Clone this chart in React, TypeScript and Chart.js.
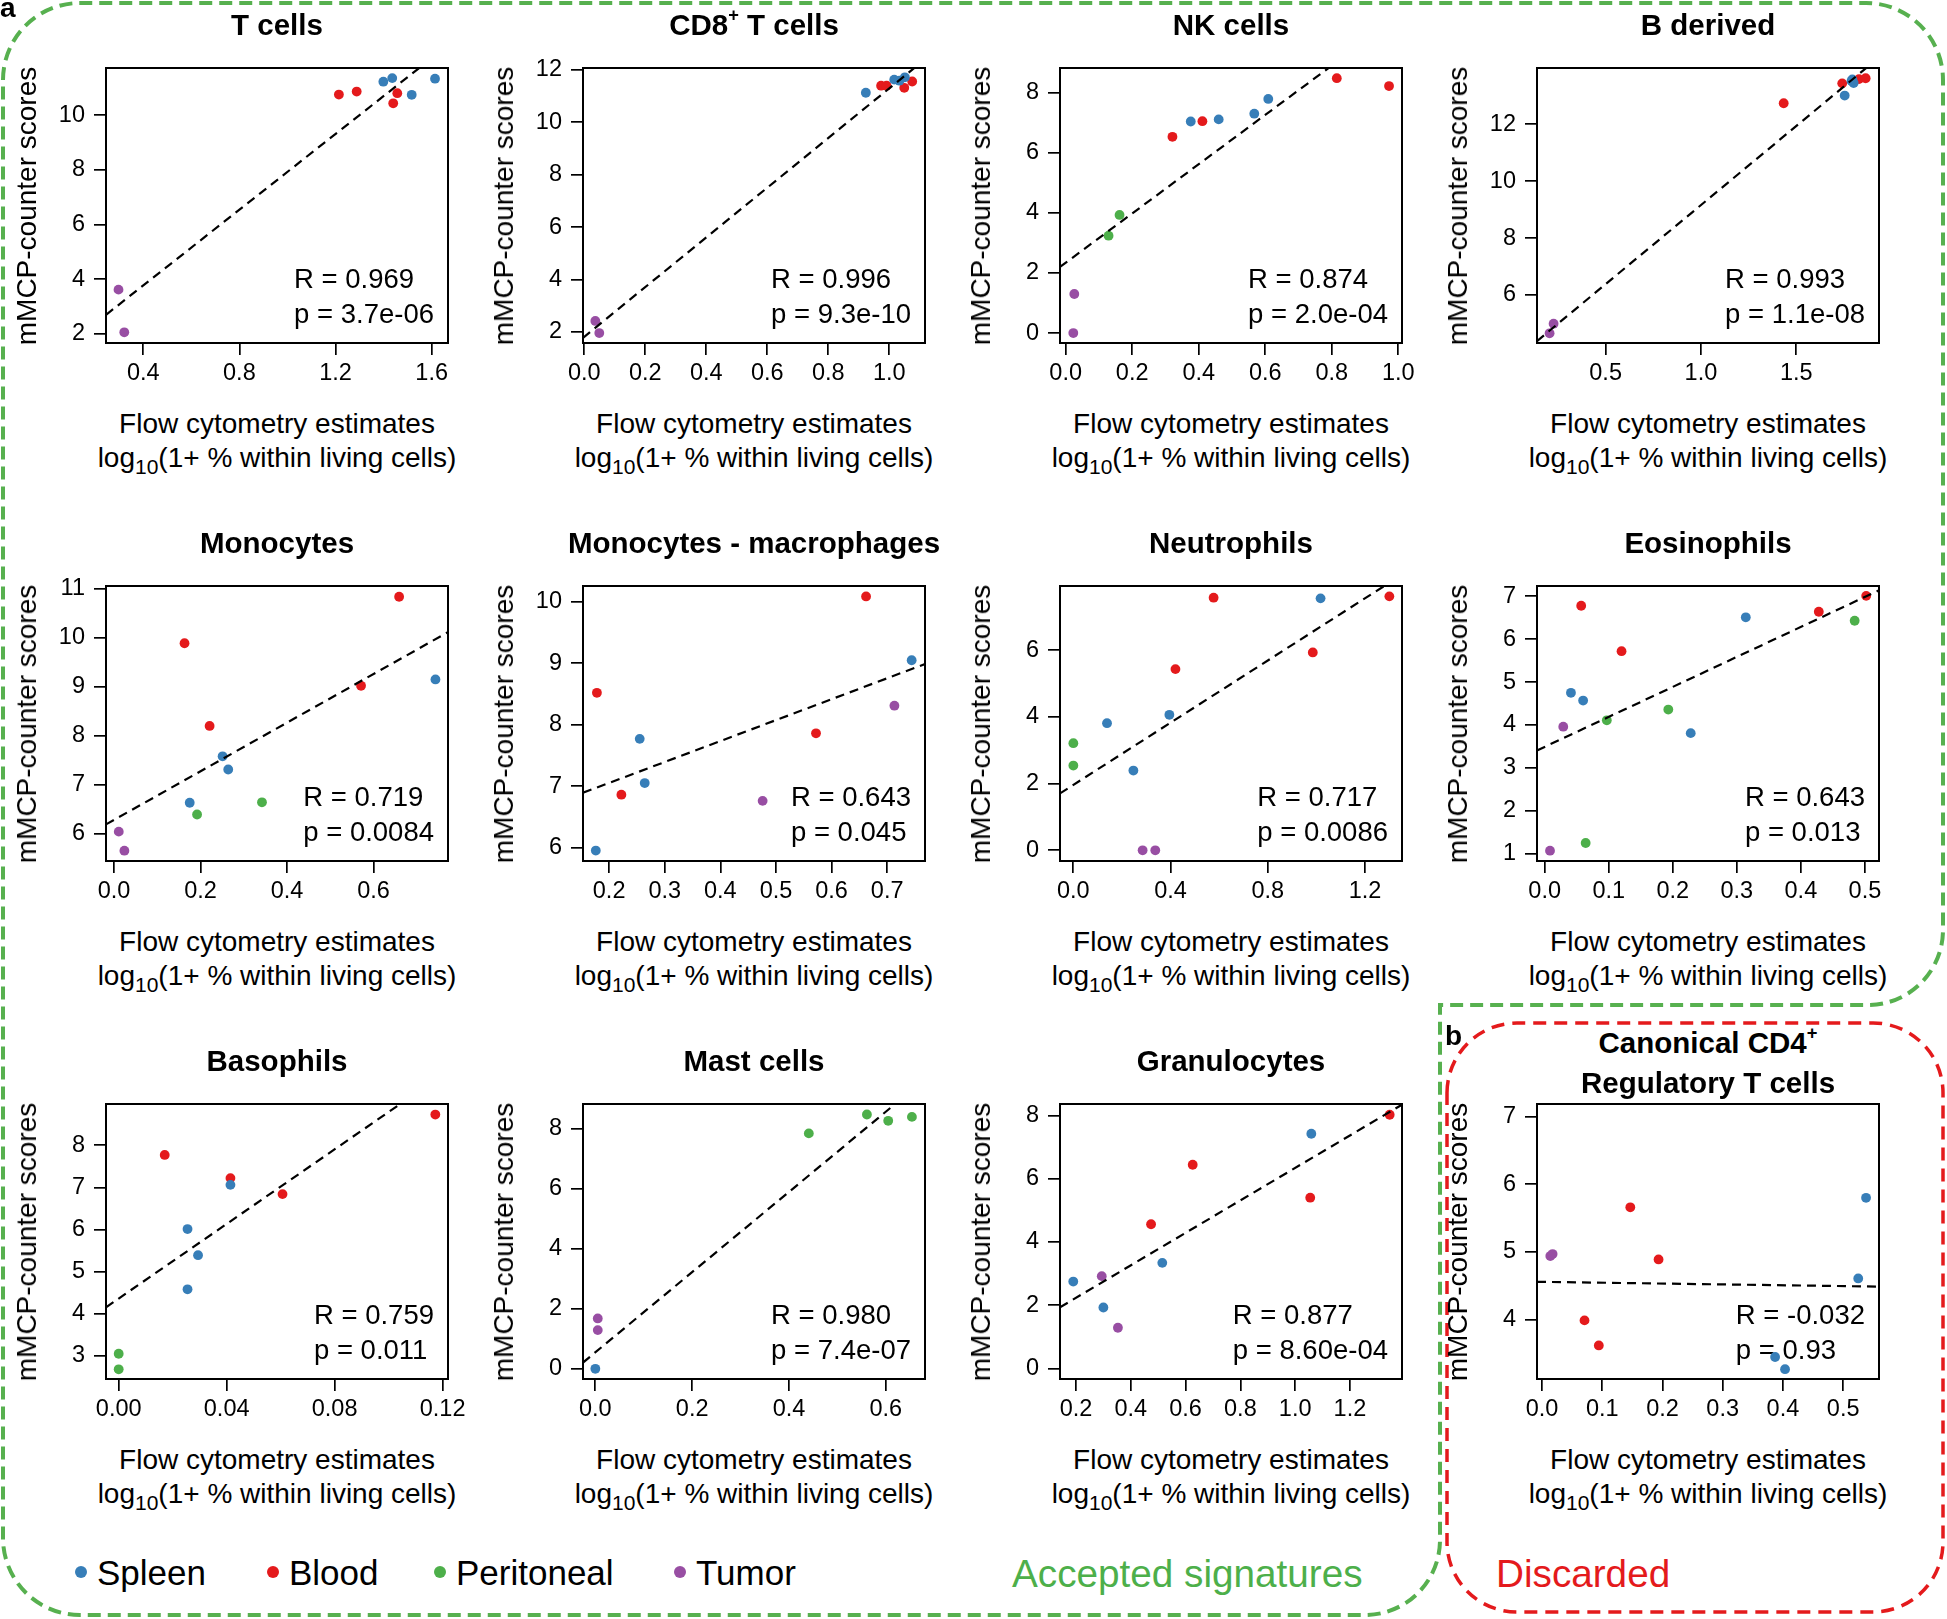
import React, { useEffect, useRef } from "react";
import { Chart, registerables } from "chart.js";

Chart.register(...registerables);

const FONT = '"Liberation Sans", Arial, Helvetica, sans-serif';
const GROUP_COLORS: Record<string, string> = {
  S: "#377EB8",
  B: "#E41A1C",
  P: "#4DAF4A",
  T: "#984EA3",
};
const LEGEND_LABELS = ["Spleen", "Blood", "Peritoneal", "Tumor"];
const LEGEND_CODES = ["S", "B", "P", "T"];

// ---------- data (x: flow cytometry estimate, y: mMCP-counter score) ----------
const tCellsX = [1.399, 1.436, 1.614, 1.517, 1.214, 1.288, 1.457, 1.44, 0.297, 0.321];
const tCellsY = [11.22, 11.35, 11.33, 10.74, 10.75, 10.86, 10.8, 10.43, 3.62, 2.06];
const tCellsG = ["S", "S", "S", "S", "B", "B", "B", "B", "T", "T"];
const tCellsFit = [1.005, 6.92];
const tCellsXTicks = ["0.4", "0.8", "1.2", "1.6"];
const tCellsYTicks = ["2", "4", "6", "8", "10"];

const cd8X = [0.923, 1.016, 1.033, 1.051, 0.973, 0.991, 1.049, 1.075, 0.036, 0.049];
const cd8Y = [11.12, 11.62, 11.58, 11.71, 11.39, 11.39, 11.31, 11.55, 2.42, 1.96];
const cd8G = ["S", "S", "S", "S", "B", "B", "B", "B", "T", "T"];
const cd8Fit = [1.82, 9.47];
const cd8XTicks = ["0.0", "0.2", "0.4", "0.6", "0.8", "1.0"];
const cd8YTicks = ["2", "4", "6", "8", "10", "12"];

const nkX = [0.376, 0.46, 0.567, 0.609, 0.321, 0.411, 0.815, 0.972, 0.129, 0.162, 0.023, 0.026];
const nkY = [7.04, 7.11, 7.3, 7.79, 6.53, 7.05, 8.48, 8.22, 3.24, 3.93, 0.0, 1.3];
const nkG = ["S", "S", "S", "S", "B", "B", "B", "B", "P", "P", "T", "T"];
const nkFit = [2.34, 8.2];
const nkXTicks = ["0.0", "0.2", "0.4", "0.6", "0.8", "1.0"];
const nkYTicks = ["0", "2", "4", "6", "8"];

const bX = [1.754, 1.794, 1.801, 1.79, 1.434, 1.741, 1.829, 1.864, 0.206, 0.227];
const bY = [13.01, 13.58, 13.45, 13.52, 12.74, 13.44, 13.59, 13.62, 4.65, 4.99];
const bG = ["S", "S", "S", "S", "B", "B", "B", "B", "T", "T"];
const bFit = [3.6, 5.56];
const bXTicks = ["0.5", "1.0", "1.5"];
const bYTicks = ["6", "8", "10", "12"];

const monoX = [0.175, 0.251, 0.264, 0.743, 0.163, 0.221, 0.571, 0.659, 0.192, 0.342, 0.011, 0.024];
const monoY = [6.63, 7.58, 7.31, 9.15, 9.89, 8.2, 9.02, 10.84, 6.39, 6.64, 6.04, 5.65];
const monoG = ["S", "S", "S", "S", "B", "B", "B", "B", "P", "P", "T", "T"];
const monoFit = [6.28, 4.97];
const monoXTicks = ["0.0", "0.2", "0.4", "0.6"];
const monoYTicks = ["6", "7", "8", "9", "10", "11"];

const macroX = [0.176, 0.255, 0.264, 0.744, 0.178, 0.222, 0.572, 0.662, 0.476, 0.713];
const macroY = [5.95, 7.77, 7.05, 9.05, 8.52, 6.86, 7.86, 10.09, 6.76, 8.31];
const macroG = ["S", "S", "S", "S", "B", "B", "B", "B", "T", "T"];
const macroFit = [6.37, 3.41];
const macroXTicks = ["0.2", "0.3", "0.4", "0.5", "0.6", "0.7"];
const macroYTicks = ["6", "7", "8", "9", "10"];

const neutroX = [0.1385, 0.247, 0.395, 1.017, 0.42, 0.577, 0.985, 1.3, 0.0, 0.0, 0.285, 0.337];
const neutroY = [3.81, 2.39, 4.06, 7.55, 5.43, 7.57, 5.93, 7.61, 3.21, 2.54, 0.0, 0.0];
const neutroG = ["S", "S", "S", "S", "B", "B", "B", "B", "P", "P", "T", "T"];
const neutroFit = [1.96, 4.66];
const neutroXTicks = ["0.0", "0.4", "0.8", "1.2"];
const neutroYTicks = ["0", "2", "4", "6"];

const eosX = [0.041, 0.06, 0.228, 0.314, 0.057, 0.12, 0.428, 0.502, 0.064, 0.097, 0.193, 0.484, 0.0083, 0.029];
const eosY = [4.75, 4.57, 3.81, 6.51, 6.78, 5.72, 6.64, 7.01, 1.25, 4.11, 4.36, 6.43, 1.07, 3.96];
const eosG = ["S", "S", "S", "S", "B", "B", "B", "B", "P", "P", "P", "P", "T", "T"];
const eosFit = [3.49, 6.99];
const eosXTicks = ["0.0", "0.1", "0.2", "0.3", "0.4", "0.5"];
const eosYTicks = ["1", "2", "3", "4", "5", "6", "7"];

const basoX = [0.0255, 0.0294, 0.0255, 0.0414, 0.01705, 0.0414, 0.0607, 0.1173, 0.0, 0.0];
const basoY = [6.01, 5.39, 4.58, 7.06, 7.77, 7.22, 6.84, 8.73, 3.05, 2.68];
const basoG = ["S", "S", "S", "S", "B", "B", "B", "B", "P", "P"];
const basoFit = [4.36, 44.3];
const basoXTicks = ["0.00", "0.04", "0.08", "0.12"];
const basoYTicks = ["3", "4", "5", "6", "7", "8"];

const mastX = [0.0, 0.441, 0.561, 0.605, 0.654, 0.005, 0.005];
const mastY = [0.0, 7.85, 8.48, 8.27, 8.4, 1.29, 1.68];
const mastG = ["S", "P", "P", "P", "P", "T", "T"];
const mastFit = [0.55, 13.37];
const mastXTicks = ["0.0", "0.2", "0.4", "0.6"];
const mastYTicks = ["0", "2", "4", "6", "8"];

const granX = [0.19, 0.3, 0.515, 1.059, 0.474, 0.626, 1.055, 1.345, 0.294, 0.353];
const granY = [2.75, 1.93, 3.34, 7.42, 4.56, 6.44, 5.4, 8.02, 2.92, 1.29];
const granG = ["S", "S", "S", "S", "B", "B", "B", "B", "T", "T"];
const granFit = [1.21, 5.13];
const granXTicks = ["0.2", "0.4", "0.6", "0.8", "1.0", "1.2"];
const granYTicks = ["0", "2", "4", "6", "8"];

const tregX = [0.387, 0.4035, 0.525, 0.538, 0.0706, 0.0943, 0.1466, 0.1935, 0.0138, 0.0176];
const tregY = [3.45, 3.27, 4.61, 5.8, 3.99, 3.62, 5.66, 4.89, 4.94, 4.97];
const tregG = ["S", "S", "S", "S", "B", "B", "B", "B", "T", "T"];
const tregFit = [4.559, -0.125];
const tregXTicks = ["0.0", "0.1", "0.2", "0.3", "0.4", "0.5"];
const tregYTicks = ["4", "5", "6", "7"];

// ---------- layout ----------
const COL_LEFT = [106, 583, 1060, 1537];
const ROW_TOP = [68, 586, 1104];
const PLOT_W = 342;
const PLOT_H = 275;
const PAD_L = 100;
const PAD_T = 34;
const PAD_R = 30;
const AX_H = 60;

type Panel = {
  title: React.ReactNode[];
  x: number[];
  y: number[];
  g: string[];
  xRange: [number, number];
  yRange: [number, number];
  xTicks: string[];
  yTicks: string[];
  fit: number[];
  r: string;
  p: string;
  col: number;
  row: number;
};

const sup = (s: string) => (
  <span style={{ fontSize: "0.62em", position: "relative", top: "-0.75em" }}>{s}</span>
);

const panels: Panel[] = [
  { title: ["T cells"], x: tCellsX, y: tCellsY, g: tCellsG, xRange: [0.245, 1.668], yRange: [1.67, 11.72], xTicks: tCellsXTicks, yTicks: tCellsYTicks, fit: tCellsFit, r: "R = 0.969", p: "p = 3.7e-06", col: 0, row: 0 },
  { title: [<>CD8{sup("+")} T cells</>], x: cd8X, y: cd8Y, g: cd8G, xRange: [-0.0044, 1.117], yRange: [1.58, 12.064], xTicks: cd8XTicks, yTicks: cd8YTicks, fit: cd8Fit, r: "R = 0.996", p: "p = 9.3e-10", col: 1, row: 0 },
  { title: ["NK cells"], x: nkX, y: nkY, g: nkG, xRange: [-0.017, 1.011], yRange: [-0.33, 8.82], xTicks: nkXTicks, yTicks: nkYTicks, fit: nkFit, r: "R = 0.874", p: "p = 2.0e-04", col: 2, row: 0 },
  { title: ["B derived"], x: bX, y: bY, g: bG, xRange: [0.14, 1.934], yRange: [4.31, 13.98], xTicks: bXTicks, yTicks: bYTicks, fit: bFit, r: "R = 0.993", p: "p = 1.1e-08", col: 3, row: 0 },
  { title: ["Monocytes"], x: monoX, y: monoY, g: monoG, xRange: [-0.0185, 0.772], yRange: [5.44, 11.06], xTicks: monoXTicks, yTicks: monoYTicks, fit: monoFit, r: "R = 0.719", p: "p = 0.0084", col: 0, row: 1 },
  { title: ["Monocytes - macrophages"], x: macroX, y: macroY, g: macroG, xRange: [0.153, 0.768], yRange: [5.78, 10.26], xTicks: macroXTicks, yTicks: macroYTicks, fit: macroFit, r: "R = 0.643", p: "p = 0.045", col: 1, row: 1 },
  { title: ["Neutrophils"], x: neutroX, y: neutroY, g: neutroG, xRange: [-0.0549, 1.352], yRange: [-0.32, 7.92], xTicks: neutroXTicks, yTicks: neutroYTicks, fit: neutroFit, r: "R = 0.717", p: "p = 0.0086", col: 2, row: 1 },
  { title: ["Eosinophils"], x: eosX, y: eosY, g: eosG, xRange: [-0.012, 0.522], yRange: [0.83, 7.24], xTicks: eosXTicks, yTicks: eosYTicks, fit: eosFit, r: "R = 0.643", p: "p = 0.013", col: 3, row: 1 },
  { title: ["Basophils"], x: basoX, y: basoY, g: basoG, xRange: [-0.0047, 0.122], yRange: [2.45, 8.98], xTicks: basoXTicks, yTicks: basoYTicks, fit: basoFit, r: "R = 0.759", p: "p = 0.011", col: 0, row: 2 },
  { title: ["Mast cells"], x: mastX, y: mastY, g: mastG, xRange: [-0.0255, 0.681], yRange: [-0.34, 8.83], xTicks: mastXTicks, yTicks: mastYTicks, fit: mastFit, r: "R = 0.980", p: "p = 7.4e-07", col: 1, row: 2 },
  { title: ["Granulocytes"], x: granX, y: granY, g: granG, xRange: [0.1416, 1.39], yRange: [-0.33, 8.36], xTicks: granXTicks, yTicks: granYTicks, fit: granFit, r: "R = 0.877", p: "p = 8.60e-04", col: 2, row: 2 },
  { title: [<>Canonical CD4{sup("+")}</>, "Regulatory T cells"], x: tregX, y: tregY, g: tregG, xRange: [-0.0083, 0.5595], yRange: [3.125, 7.185], xTicks: tregXTicks, yTicks: tregYTicks, fit: tregFit, r: "R = -0.032", p: "p = 0.93", col: 3, row: 2 },
];

function fixedTicks(labels: string[]) {
  return (scale: any) => {
    scale.ticks = labels.map((l) => ({ value: parseFloat(l) }));
  };
}

function ScatterPanel({ panel }: { panel: Panel }) {
  const ref = useRef<HTMLCanvasElement>(null);
  const left = COL_LEFT[panel.col];
  const top = ROW_TOP[panel.row];
  const W = PAD_L + PLOT_W + PAD_R;
  const H = PAD_T + PLOT_H + AX_H;

  useEffect(() => {
    if (!ref.current) return;
    const [x0, x1] = panel.xRange;
    const [a, b] = panel.fit;
    const datasets: any[] = [
      {
        label: "fit",
        data: [
          { x: x0, y: a + b * x0 },
          { x: x1, y: a + b * x1 },
        ],
        showLine: true,
        borderColor: "#000",
        borderWidth: 2.2,
        borderDash: [9, 6],
        pointRadius: 0,
        clip: 0,
      },
    ];
    LEGEND_CODES.forEach((code) => {
      const pts = panel.x
        .map((xv, i) => ({ x: xv, y: panel.y[i], g: panel.g[i] }))
        .filter((d) => d.g === code)
        .map((d) => ({ x: d.x, y: d.y }));
      if (pts.length === 0) return;
      datasets.push({
        label: code,
        data: pts,
        showLine: false,
        pointRadius: 4.9,
        pointBorderWidth: 0,
        pointBackgroundColor: GROUP_COLORS[code],
        pointBorderColor: GROUP_COLORS[code],
        clip: false,
      });
    });

    const boxAndStats = {
      id: "boxAndStats",
      beforeDatasetsDraw(chart: any) {
        const { ctx, chartArea } = chart;
        ctx.save();
        ctx.font = `27.5px ${FONT}`;
        ctx.fillStyle = "#000";
        ctx.textBaseline = "middle";
        ctx.textAlign = "left";
        const w = Math.max(ctx.measureText(panel.r).width, ctx.measureText(panel.p).width);
        const tx = chartArea.right - 14 - w;
        ctx.fillText(panel.r, tx, chartArea.bottom - 63);
        ctx.fillText(panel.p, tx, chartArea.bottom - 28);
        ctx.restore();
      },
      afterDraw(chart: any) {
        const { ctx, chartArea } = chart;
        ctx.save();
        ctx.strokeStyle = "#000";
        ctx.lineWidth = 2;
        ctx.strokeRect(chartArea.left, chartArea.top, chartArea.right - chartArea.left, chartArea.bottom - chartArea.top);
        ctx.restore();
      },
    };

    const axisCommon = (labels: string[]) => ({
      type: "linear" as const,
      afterBuildTicks: fixedTicks(labels),
      ticks: {
        callback: (_v: any, i: number) => labels[i],
        font: { family: FONT, size: 23.5 },
        color: "#000",
        autoSkip: false,
        maxRotation: 0,
        minRotation: 0,
      },
      grid: {
        display: true,
        drawOnChartArea: false,
        drawTicks: true,
        tickLength: 12,
        color: "#000",
        lineWidth: 1.7,
      },
      border: { display: true, color: "#000", width: 2 },
    });

    const xAxis: any = axisCommon(panel.xTicks);
    xAxis.min = panel.xRange[0];
    xAxis.max = panel.xRange[1];
    xAxis.position = "bottom";
    xAxis.ticks.padding = 4;
    xAxis.afterFit = (s: any) => {
      s.height = AX_H;
    };
    const yAxis: any = axisCommon(panel.yTicks);
    yAxis.min = panel.yRange[0];
    yAxis.max = panel.yRange[1];
    yAxis.position = "left";
    yAxis.ticks.padding = 9;
    yAxis.afterFit = (s: any) => {
      s.width = PAD_L;
    };

    const chart = new Chart(ref.current, {
      type: "scatter",
      data: { datasets },
      options: {
        responsive: false,
        animation: false,
        events: [],
        layout: { padding: { left: 0, top: PAD_T, right: PAD_R, bottom: 0 } },
        plugins: { legend: { display: false }, tooltip: { enabled: false }, title: { display: false } },
        scales: { x: xAxis, y: yAxis },
      },
      plugins: [boxAndStats],
    });
    return () => chart.destroy();
  }, []);

  const cx = left + PLOT_W / 2;
  const cy = top + PLOT_H / 2;
  const textBase: React.CSSProperties = {
    position: "absolute",
    whiteSpace: "nowrap",
    lineHeight: 1,
    color: "#000",
  };
  const titleOffsets = panel.title.length === 1 ? [-43] : [-61, -21];

  return (
    <>
      <canvas
        ref={ref}
        width={W}
        height={H}
        style={{ position: "absolute", left: left - PAD_L, top: top - PAD_T, width: W, height: H }}
      />
      {panel.title.map((t, i) => (
        <div
          key={i}
          style={{
            ...textBase,
            left: cx,
            top: top + titleOffsets[i],
            transform: "translate(-50%, -50%)",
            fontWeight: "bold",
            fontSize: 29.5,
          }}
        >
          {t}
        </div>
      ))}
      <div
        style={{
          ...textBase,
          left: left - 79,
          top: cy,
          transform: "translate(-50%, -50%) rotate(-90deg)",
          fontSize: 28,
        }}
      >
        mMCP-counter scores
      </div>
      <div style={{ ...textBase, left: cx, top: top + PLOT_H + 81, transform: "translate(-50%, -50%)", fontSize: 28 }}>
        Flow cytometry estimates
      </div>
      <div style={{ ...textBase, left: cx, top: top + PLOT_H + 115, transform: "translate(-50%, -50%)", fontSize: 28 }}>
        log<span style={{ fontSize: "0.75em", position: "relative", top: "0.32em" }}>10</span>(1+ % within living cells)
      </div>
    </>
  );
}

const legendDotX = [81, 273, 440, 680];

export default function App() {
  const greenPath =
    "M 3,80 A 77 77 0 0 1 80,3 L 1866,3 A 77 77 0 0 1 1943,80 L 1943,930 A 75 75 0 0 1 1868,1005 L 1440,1005 L 1440,1540 A 75 75 0 0 1 1365,1615 L 80,1615 A 77 77 0 0 1 3,1538 Z";
  const redPath =
    "M 1447,1093 A 70 70 0 0 1 1517,1023 L 1873,1023 A 70 70 0 0 1 1943,1093 L 1943,1542 A 70 70 0 0 1 1873,1612 L 1517,1612 A 70 70 0 0 1 1447,1542 Z";
  return (
    <div
      style={{
        position: "absolute",
        left: 0,
        top: 0,
        width: 1947,
        height: 1619,
        background: "#fff",
        fontFamily: FONT,
        overflow: "hidden",
      }}
    >
      <svg width={1947} height={1619} style={{ position: "absolute", left: 0, top: 0 }}>
        <path d={greenPath} fill="none" stroke="#57B04F" strokeWidth={4} strokeDasharray="13 7" />
        <path d={redPath} fill="none" stroke="#E41A1C" strokeWidth={3.5} strokeDasharray="13 8" />
      </svg>
      {panels.map((p, i) => (
        <ScatterPanel key={i} panel={p} />
      ))}
      <div style={{ position: "absolute", left: 0, top: -6, fontWeight: "bold", fontSize: 28, lineHeight: 1 }}>a</div>
      <div style={{ position: "absolute", left: 1445, top: 1022, fontWeight: "bold", fontSize: 28, lineHeight: 1 }}>b</div>
      {LEGEND_LABELS.map((lab, i) => (
        <React.Fragment key={lab}>
          <div
            style={{
              position: "absolute",
              left: legendDotX[i] - 6,
              top: 1572 - 6,
              width: 12,
              height: 12,
              borderRadius: 6,
              background: GROUP_COLORS[LEGEND_CODES[i]],
            }}
          />
          <div
            style={{
              position: "absolute",
              left: legendDotX[i] + 16,
              top: 1572,
              transform: "translateY(-50%)",
              fontSize: 35,
              lineHeight: 1,
              whiteSpace: "nowrap",
            }}
          >
            {lab}
          </div>
        </React.Fragment>
      ))}
      <div
        style={{
          position: "absolute",
          left: 1012,
          top: 1574,
          transform: "translateY(-50%)",
          fontSize: 38.7,
          lineHeight: 1,
          color: "#4DAF4A",
          whiteSpace: "nowrap",
        }}
      >
        Accepted signatures
      </div>
      <div
        style={{
          position: "absolute",
          left: 1496,
          top: 1574,
          transform: "translateY(-50%)",
          fontSize: 38.7,
          lineHeight: 1,
          color: "#E41A1C",
          whiteSpace: "nowrap",
        }}
      >
        Discarded
      </div>
    </div>
  );
}
